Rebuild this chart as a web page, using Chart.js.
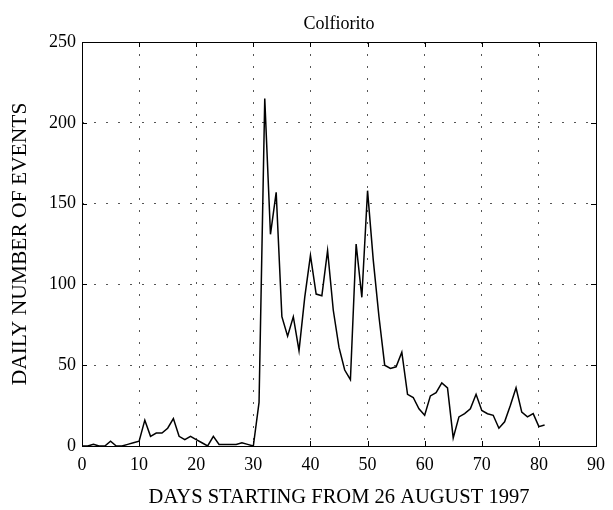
<!DOCTYPE html>
<html>
<head>
<meta charset="utf-8">
<title>Colfiorito</title>
<script src="https://cdn.jsdelivr.net/npm/chart.js@4.4.1/dist/chart.umd.min.js"></script>
<style>
    html, body { margin: 0; padding: 0; background: #fff; }
    #wrap { width: 613px; height: 510px; }
</style>
</head>
<body>
<div id="wrap"><canvas id="GraphEvents" width="613" height="510"></canvas></div>
<script>
// days since 26 August 1997
const days = [
    0, 1, 2, 3, 4, 5, 6, 7, 8, 9,
    10, 11, 12, 13, 14, 15, 16, 17, 18, 19,
    20, 21, 22, 23, 24, 25, 26, 27, 28, 29,
    30, 31, 32, 33, 34, 35, 36, 37, 38, 39,
    40, 41, 42, 43, 44, 45, 46, 47, 48, 49,
    50, 51, 52, 53, 54, 55, 56, 57, 58, 59,
    60, 61, 62, 63, 64, 65, 66, 67, 68, 69,
    70, 71, 72, 73, 74, 75, 76, 77, 78, 79,
    80, 81
];

// daily number of events
const events = [
    0, 0, 1, 0, 0, 3, 0, 0, 1, 2,
    3, 16, 6, 8, 8, 11, 17, 6, 4, 6,
    4, 2, 0, 6, 1, 1, 1, 1, 2, 1,
    0, 27, 215, 131, 157, 80, 68, 80, 59, 92,
    118, 94, 93, 121, 84, 61, 47, 41, 125, 92,
    158, 115, 80, 50, 48, 49, 58, 32, 30, 23,
    19, 31, 33, 39, 36, 5, 18, 20, 23, 32,
    22, 20, 19, 11, 15, 25, 36, 21, 18, 20,
    12, 13
];

const xTicks = [0, 10, 20, 30, 40, 50, 60, 70, 80, 90];
const yTicks = [0, 50, 100, 150, 200, 250];

const serif = '"Liberation Serif", "Times New Roman", serif';

// box round the plot plus small inward tick marks, like the original figure
const frameBox = {
    id: 'frameBox',
    afterDraw(chart) {
        const ctx = chart.ctx;
        const a = chart.chartArea;
        const xs = chart.scales.x;
        const ys = chart.scales.y;
        const len = 5;
        ctx.save();
        ctx.strokeStyle = '#000';
        ctx.lineWidth = 1;
        ctx.beginPath();
        xTicks.forEach(v => {
            const px = Math.round(xs.getPixelForValue(v)) + 0.5;
            ctx.moveTo(px, a.bottom); ctx.lineTo(px, a.bottom - len);
            ctx.moveTo(px, a.top); ctx.lineTo(px, a.top + len);
        });
        yTicks.forEach(v => {
            const py = Math.round(ys.getPixelForValue(v)) + 0.5;
            ctx.moveTo(a.left, py); ctx.lineTo(a.left + len, py);
            ctx.moveTo(a.right, py); ctx.lineTo(a.right - len, py);
        });
        ctx.stroke();
        ctx.strokeRect(Math.round(a.left) + 0.5, Math.round(a.top) + 0.5,
            Math.round(a.right - a.left), Math.round(a.bottom - a.top));
        ctx.restore();
    }
};

const config = {
    type: 'line',
    data: {
        datasets: [{
            label: 'Colfiorito',
            data: days.map((d, i) => ({ x: d, y: events[i] })),
            borderColor: '#000',
            borderWidth: 1.5,
            pointRadius: 0,
            tension: 0,
            fill: false
        }]
    },
    options: {
        responsive: false,
        animation: false,
        layout: {
            padding: { left: 0, right: 16, top: 0, bottom: 0 }
        },
        scales: {
            x: {
                type: 'linear',
                min: 0,
                max: 90,
                afterBuildTicks: scale => { scale.ticks = xTicks.map(v => ({ value: v })); },
                afterFit: scale => { scale.height = 64; },
                ticks: {
                    color: '#000',
                    padding: 8,
                    maxRotation: 0,
                    font: { family: serif, size: 18 }
                },
                grid: {
                    color: '#555',
                    lineWidth: 1,
                    drawTicks: false
                },
                border: { display: false, dash: [2, 10] },
                title: {
                    display: true,
                    text: 'DAYS STARTING FROM 26 AUGUST 1997',
                    color: '#000',
                    padding: { top: 0, bottom: 0 },
                    font: { family: serif, size: 20.5 }
                }
            },
            y: {
                min: 0,
                max: 250,
                afterBuildTicks: scale => { scale.ticks = yTicks.map(v => ({ value: v })); },
                afterFit: scale => { scale.width = 82; },
                ticks: {
                    color: '#000',
                    padding: 6,
                    font: { family: serif, size: 18 }
                },
                grid: {
                    color: '#555',
                    lineWidth: 1,
                    drawTicks: false
                },
                border: { display: false, dash: [2, 10] },
                title: {
                    display: true,
                    text: 'DAILY NUMBER OF EVENTS',
                    color: '#000',
                    padding: { top: 7, bottom: 0 },
                    font: { family: serif, size: 21.5 }
                }
            }
        },
        plugins: {
            legend: { display: false },
            tooltip: { enabled: false },
            title: {
                display: true,
                text: 'Colfiorito',
                fullSize: false,
                color: '#000',
                padding: { top: 13, bottom: 7.4 },
                font: { family: serif, size: 18, weight: 'normal' }
            }
        }
    },
    plugins: [frameBox]
};

const canvasElement = document.getElementById('GraphEvents');
const GraphEvents = new Chart(canvasElement, config);
</script>
</body>
</html>
